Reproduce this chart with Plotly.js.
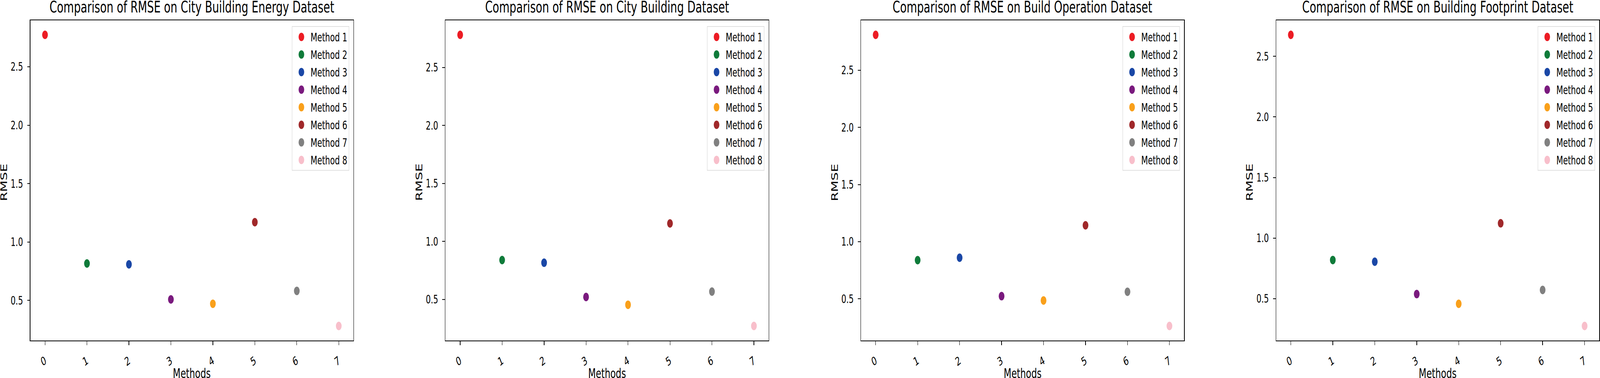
<!DOCTYPE html>
<html>
<head>
<meta charset="utf-8">
<script src="https://cdn.plot.ly/plotly-3.0.1.min.js"></script>
<style>
  html, body { margin: 0; padding: 0; overflow: hidden; background: #fff; }
  #wrap { width: 100vw; height: 968px; overflow: hidden; }
  #chart { width: 6145px; height: 968px; transform-origin: 0 0; }
</style>
</head>
<body>
<div id="wrap"><div id="chart"></div></div>
<script>
// ---- data ----
const methods = ['Method 1', 'Method 2', 'Method 3', 'Method 4', 'Method 5', 'Method 6', 'Method 7', 'Method 8'];
const methodIndex = [0, 1, 2, 3, 4, 5, 6, 7];
const tickLabels = ['0', '1', '2', '3', '4', '5', '6', '7'];
const methodColors = ['#ec1c24', '#0f7b3a', '#1a47a6', '#7a1a7e', '#f9a01b', '#a0282a', '#808080', '#f8bfcb'];
const datasetTitles = [
  'Comparison of RMSE on City Building Energy Dataset',
  'Comparison of RMSE on City Building Dataset',
  'Comparison of RMSE on Build Operation Dataset',
  'Comparison of RMSE on Building Footprint Dataset'
];
const rmseCityEnergy = [2.773, 0.816, 0.808, 0.508, 0.471, 1.169, 0.581, 0.281];
const rmseCityBuilding = [2.781, 0.839, 0.816, 0.521, 0.454, 1.155, 0.567, 0.271];
const rmseBuildOperation = [2.810, 0.838, 0.859, 0.523, 0.485, 1.143, 0.561, 0.262];
const rmseFootprint = [2.677, 0.819, 0.805, 0.538, 0.458, 1.122, 0.572, 0.275];
const xLabel = 'Methods';
const yLabel = 'RMSE';

// ---- layout helpers ----
const allSeries = [rmseCityEnergy, rmseCityBuilding, rmseBuildOperation, rmseFootprint];
const FULLW = 4486;           // reference width
const PLOTW = 6145;           // un-squished drawing width (reference is compressed horizontally ~0.73)
const pxDomains = [[85, 991], [1249, 2155], [2414, 3320], [3578, 4484]];
const FONT = 'DejaVu Sans, Verdana, sans-serif';

// fit the whole figure into the actual viewport width
const vw = window.innerWidth || FULLW;
const sx = vw / PLOTW;
document.getElementById('chart').style.transform = 'scaleX(' + sx + ')';

const data = [];
const layout = {
  width: PLOTW, height: 968,
  margin: {l: 0, r: 0, t: 52, b: 96, pad: 0},
  paper_bgcolor: '#ffffff', plot_bgcolor: '#ffffff',
  font: {family: FONT, color: '#000000', size: 30},
  annotations: [],
  showlegend: true
};

allSeries.forEach((vals, i) => {
  const sfx = i === 0 ? '' : String(i + 1);
  const legName = 'legend' + sfx;
  methods.forEach((m, j) => {
    data.push({
      type: 'scatter', mode: 'markers',
      x: [methodIndex[j]], y: [vals[j]],
      name: m,
      marker: {color: methodColors[j], size: 22, line: {width: 0}},
      xaxis: 'x' + sfx, yaxis: 'y' + sfx,
      legend: legName, legendgroup: 's' + i + 'm' + j,
      hoverinfo: 'x+y'
    });
  });
  const mn = Math.min(...vals), mx = Math.max(...vals);
  const span = mx - mn;
  const dom = [pxDomains[i][0] / FULLW, pxDomains[i][1] / FULLW];
  const xmin = Math.min(...methodIndex), xmax = Math.max(...methodIndex);
  const xm = (xmax - xmin) * 0.05;
  layout['xaxis' + sfx] = {
    domain: dom, anchor: 'y' + sfx,
    range: [xmin - xm, xmax + xm],
    tickvals: methodIndex, ticktext: tickLabels, tickangle: -30,
    ticks: 'outside', ticklen: 10, tickwidth: 2, tickcolor: '#000',
    showline: true, linecolor: '#000', linewidth: 2, mirror: true,
    showgrid: false, zeroline: false,
    tickfont: {family: FONT, size: 30, color: '#000'},
    ticklabelstandoff: 11
  };
  layout['yaxis' + sfx] = {
    domain: [0, 1], anchor: 'x' + sfx,
    range: [mn - span * 0.05, mx + span * 0.05],
    dtick: 0.5, tick0: 0, tickformat: '.1f',
    ticks: 'outside', ticklen: 10, tickwidth: 2, tickcolor: '#000',
    showline: true, linecolor: '#000', linewidth: 2, mirror: true,
    showgrid: false, zeroline: false,
    tickfont: {family: FONT, size: 30, color: '#000'},
    ticklabelstandoff: 10
  };
  layout[legName] = {
    x: (pxDomains[i][1] - 12) / FULLW, xanchor: 'right', xref: 'paper',
    y: 1 - 15 / 820, yanchor: 'top', yref: 'paper',
    bgcolor: 'rgba(255,255,255,0.8)', bordercolor: '#d6d6d6', borderwidth: 1.5,
    font: {family: FONT, size: 30, color: '#000'},
    traceorder: 'grouped', tracegroupgap: 3, itemwidth: 60,
    itemclick: false, itemdoubleclick: false
  };
  const cx = (dom[0] + dom[1]) / 2;
  layout.annotations.push({
    text: datasetTitles[i], xref: 'paper', yref: 'paper',
    x: cx, y: 1, xanchor: 'center', yanchor: 'bottom', yshift: 8,
    showarrow: false, font: {family: FONT, size: 41, color: '#000'}
  });
  layout.annotations.push({
    text: xLabel, xref: 'paper', yref: 'paper',
    x: cx, y: -(934 - 872) / 820, xanchor: 'center', yanchor: 'top',
    showarrow: false, font: {family: FONT, size: 34, color: '#000'}
  });
  layout.annotations.push({
    text: yLabel, xref: 'paper', yref: 'paper', textangle: -90,
    x: (pxDomains[i][0] - 74) / FULLW, y: 1 - (467 - 52) / 820,
    xanchor: 'center', yanchor: 'middle',
    showarrow: false, font: {family: FONT, size: 34, color: '#000'}
  });
});

Plotly.newPlot('chart', data, layout, {displayModeBar: false, responsive: false}).then(gd => {
  // legend symbols: plotly caps them at 16px; enlarge to match the plotted markers
  gd.querySelectorAll('.legendpoints path.scatterpts').forEach(p => {
    const t = p.getAttribute('transform') || '';
    p.setAttribute('transform', t + ' scale(1.35)');
  });
});
</script>
</body>
</html>
